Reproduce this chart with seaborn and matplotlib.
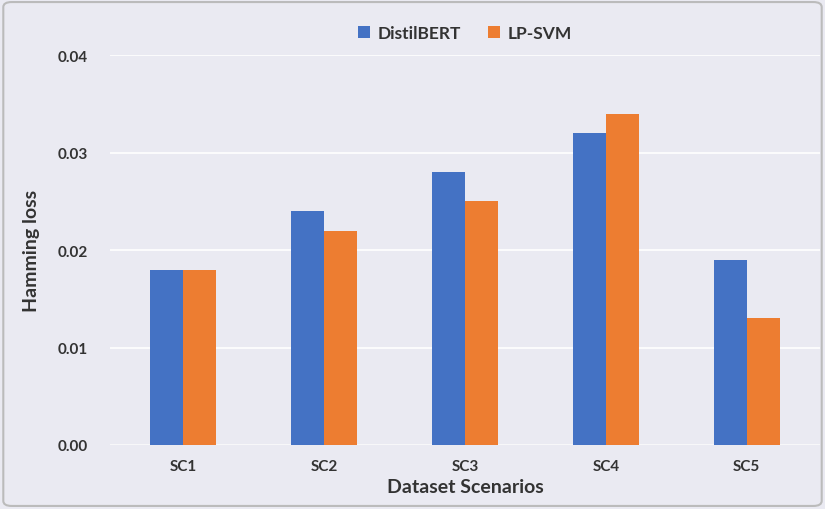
import matplotlib
matplotlib.use("Agg")
import matplotlib.pyplot as plt
import seaborn as sns
import pandas as pd
from matplotlib.patches import FancyBboxPatch

# data
scenarios = ["SC1", "SC2", "SC3", "SC4", "SC5"]
distilbert = [0.018, 0.024, 0.028, 0.032, 0.019]
lp_svm = [0.018, 0.022, 0.025, 0.034, 0.013]
models = ["DistilBERT", "LP-SVM"]

df = pd.DataFrame(
    {
        "Scenario": scenarios * 2,
        "Hamming loss": distilbert + lp_svm,
        "Model": [models[0]] * len(scenarios) + [models[1]] * len(scenarios),
    }
)

sns.set_theme(style="darkgrid")
plt.rcParams["font.family"] = ["Lato", "DejaVu Sans"]
bg = "#EAEAF2"

fig = plt.figure(figsize=(8.25, 5.1), dpi=100, facecolor=bg)
ax = fig.add_axes([0.133, 0.1255, 0.861, 0.7645])
ax.set_facecolor(bg)

sns.barplot(
    data=df,
    x="Scenario",
    y="Hamming loss",
    hue="Model",
    palette=["#4472C4", "#ED7D31"],
    width=0.47,
    saturation=1,
    linewidth=0,
    ax=ax,
)

ax.set_ylim(0, 0.04)
ax.set_xlim(-0.52, 4.52)
ax.set_yticks([0, 0.01, 0.02, 0.03, 0.04])
ax.set_yticklabels([f"{v:.2f}" for v in [0, 0.01, 0.02, 0.03, 0.04]])
ax.grid(axis="x", visible=False)
ax.grid(axis="y", color="white", linewidth=1.2)
ax.set_axisbelow(True)
for s in ax.spines.values():
    s.set_visible(False)
ax.axhline(0, color="#D0D0DA", linewidth=1.2, zorder=0.5)

ax.tick_params(axis="both", length=0, labelsize=11, colors="#333333")
ax.tick_params(axis="y", pad=16)
ax.tick_params(axis="x", pad=10)
for lab in ax.get_xticklabels() + ax.get_yticklabels():
    lab.set_fontweight("bold")

ax.set_xlabel("Dataset Scenarios", fontsize=14, fontweight="bold", color="#333333", labelpad=4)
ax.set_ylabel("Hamming loss", fontsize=14, fontweight="bold", color="#333333", labelpad=12)

leg = ax.legend(
    loc="lower center",
    bbox_to_anchor=(0.5, 0.995),
    ncol=2,
    frameon=False,
    fontsize=12.5,
    handlelength=0.7,
    handleheight=0.7,
    handletextpad=0.4,
    columnspacing=1.6,
)
for t in leg.get_texts():
    t.set_fontweight("bold")
    t.set_color("#333333")

border = FancyBboxPatch(
    (0.004, 0.006), 0.992, 0.988,
    boxstyle="round,pad=0,rounding_size=0.01",
    transform=fig.transFigure, fill=False, edgecolor="#BBBBBB", linewidth=1.5,
)
fig.patches.append(border)

fig.savefig("out.png", dpi=100, facecolor=bg)
